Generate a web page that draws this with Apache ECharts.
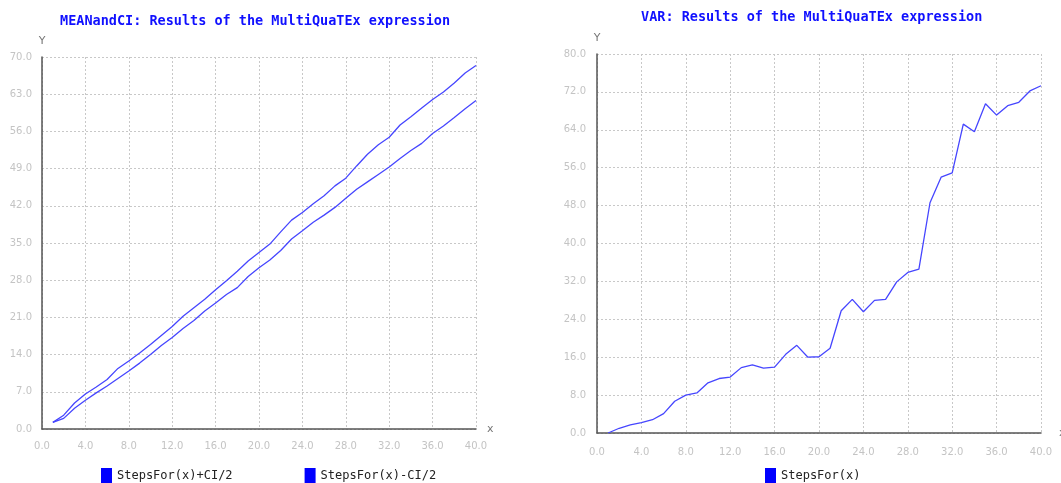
<!DOCTYPE html>
<html>
<head>
<meta charset="utf-8">
<script src="https://cdn.jsdelivr.net/npm/echarts@6/dist/echarts.min.js"></script>
<style>
html,body{margin:0;padding:0;background:#fff;}
#chart{width:1061px;height:483px;}
</style>
</head>
<body>
<div id="chart"></div>
<script>
const steps = [1,2,3,4,5,6,7,8,9,10,11,12,13,14,15,16,17,18,19,20,21,22,23,24,25,26,27,28,29,30,31,32,33,34,35,36,37,38,39,40];
const upperCI = [1.25,2.6,4.9,6.6,7.9,9.3,11.4,12.8,14.3,15.9,17.6,19.3,21.2,22.8,24.4,26.2,27.9,29.7,31.6,33.2,34.8,37.1,39.3,40.75,42.4,43.9,45.75,47.2,49.5,51.7,53.5,54.9,57.2,58.75,60.4,62.0,63.4,65.1,67.0,68.4];
const lowerCI = [1.25,2.0,3.9,5.4,6.8,8.1,9.5,10.9,12.4,14.0,15.7,17.2,18.9,20.4,22.2,23.7,25.3,26.6,28.7,30.35,31.8,33.6,35.75,37.3,38.9,40.25,41.7,43.4,45.1,46.5,47.9,49.3,50.9,52.4,53.75,55.6,57.0,58.6,60.25,61.8];
const varValues = [0,1.0,1.7,2.2,2.8,4.1,6.7,8.0,8.45,10.6,11.5,11.8,13.8,14.4,13.7,13.9,16.6,18.5,16.0,16.1,17.9,25.8,28.2,25.6,28.0,28.2,31.9,33.9,34.6,48.6,54.0,54.9,65.2,63.6,69.5,67.1,69.1,69.8,72.2,73.3];
const leftTitle = 'MEANandCI: Results of the MultiQuaTEx expression';
const rightTitle = 'VAR: Results of the MultiQuaTEx expression';
const leftSeriesNames = ['StepsFor(x)+CI/2','StepsFor(x)-CI/2'];
const rightSeriesName = 'StepsFor(x)';

const pairs = (ys) => steps.map((x,i)=>[x, ys[i]]);
const lineColor = '#4646ff';
const labelStyle = {color:'#c4c4c4', fontSize:10, fontFamily:'DejaVu Sans', formatter:(v)=>v.toFixed(1)};
const splitStyle = {show:true, lineStyle:{color:'#c8c8c8', type:[2,2], width:1}};
const axisLineStyle = {show:true, lineStyle:{color:'#555', width:1.5}};
const nameStyle = {color:'#777', fontSize:11, fontFamily:'DejaVu Sans'};

function xAxis(gridIndex, margin, nameGap){
  return {type:'value', gridIndex, min:0, max:40, interval:4, name:'x', nameLocation:'end', nameGap,
    nameTextStyle:nameStyle, axisLine:axisLineStyle, axisTick:{show:false},
    axisLabel:Object.assign({margin}, labelStyle), splitLine:splitStyle};
}
function yAxis(gridIndex, max, interval, margin){
  return {type:'value', gridIndex, min:0, max, interval, name:'Y', nameLocation:'end', nameGap:10,
    nameTextStyle:Object.assign({align:'center'}, nameStyle), axisLine:axisLineStyle, axisTick:{show:false},
    axisLabel:Object.assign({margin}, labelStyle), splitLine:splitStyle};
}
const lineSeries = (name, data, xi, yi) => ({name, type:'line', xAxisIndex:xi, yAxisIndex:yi, data,
  showSymbol:false, symbol:'none', lineStyle:{color:lineColor, width:1.3}, itemStyle:{color:lineColor}, animation:false});

const titleText = {color:'#1010ff', fontSize:13.5, fontWeight:'bold', fontFamily:'DejaVu Sans Mono'};
const legendText = {color:'#222', fontSize:12, fontFamily:'DejaVu Sans Mono'};

const chart = echarts.init(document.getElementById('chart'));
chart.setOption({
  animation:false,
  backgroundColor:'#fff',
  title:[
    {text:leftTitle, left:60, top:14, padding:0, textStyle:titleText},
    {text:rightTitle, left:641, top:10, padding:0, textStyle:titleText}
  ],
  legend:[
    {data:leftSeriesNames, left:101, top:468, icon:'rect', itemWidth:11, itemHeight:16, itemGap:72, padding:0,
     itemStyle:{color:'#0000ff'}, textStyle:legendText},
    {data:[rightSeriesName], left:765, top:468, icon:'rect', itemWidth:11, itemHeight:16, padding:0,
     itemStyle:{color:'#0000ff'}, textStyle:legendText}
  ],
  grid:[
    {left:42, top:57, width:434, height:372, containLabel:false, outerBoundsMode:'none'},
    {left:597, top:54, width:444, height:379, containLabel:false, outerBoundsMode:'none'}
  ],
  xAxis:[xAxis(0,12,11), xAxis(1,14,18)],
  yAxis:[yAxis(0,70,7,10), yAxis(1,80,8,11)],
  series:[
    lineSeries(leftSeriesNames[0], pairs(upperCI), 0, 0),
    lineSeries(leftSeriesNames[1], pairs(lowerCI), 0, 0),
    lineSeries(rightSeriesName, pairs(varValues), 1, 1)
  ]
});
</script>
</body>
</html>
